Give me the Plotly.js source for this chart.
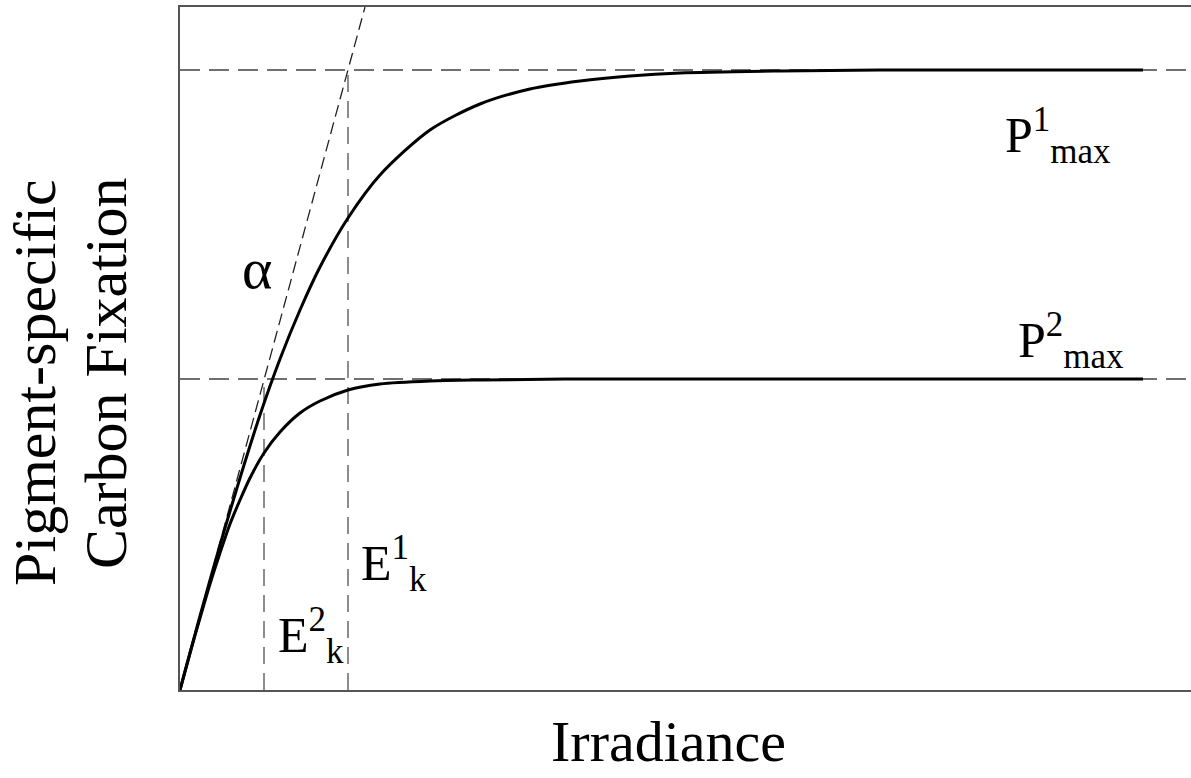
<!DOCTYPE html>
<html>
<head>
<meta charset="utf-8">
<script src="https://cdn.plot.ly/plotly-3.0.1.min.js"></script>
<style>html,body{margin:0;padding:0;background:#fff;}#chart{width:1191px;height:778px;}</style>
</head>
<body>
<div id="chart"></div>
<script>
// Irradiance (arbitrary units) and pigment-specific carbon fixation (arbitrary units)
const irradiance1 = [0, 20, 40, 60, 80, 100, 120, 140, 168, 200, 250, 300, 350, 400, 450, 500, 600, 700, 800, 963];
const fixation1   = [0, 74, 145, 212, 275, 331, 380, 423, 472, 515, 560, 586, 601, 609, 614, 617, 619, 620, 620, 620];
const irradiance2 = [0, 10, 20, 30, 40, 50, 60, 70, 84, 100, 120, 140, 168, 200, 250, 300, 400, 963];
const fixation2   = [0, 37, 72, 106, 137, 166, 190, 212, 237, 258, 277, 289, 300, 306, 309, 310, 311, 311];
const pmax1 = 620, pmax2 = 311;
const ek1 = 168, ek2 = 84;
const alphaLineE = [0, 185];
const alphaLineP = [0, 683];
const xMax = 1011, yMax = 683;

const serif = "'Liberation Serif', 'Times New Roman', Times, serif";
const grayDash = {color: '#707070', width: 2, dash: '20px,9px'};
const vDash = {color: '#707070', width: 1.6, dash: '17px,9px'};

const traces = [
  {x: [0, xMax], y: [pmax1, pmax1], mode: 'lines', line: grayDash, hoverinfo: 'skip'},
  {x: [0, xMax], y: [pmax2, pmax2], mode: 'lines', line: grayDash, hoverinfo: 'skip'},
  {x: [ek1, ek1], y: [0, pmax1], mode: 'lines', line: vDash, hoverinfo: 'skip'},
  {x: [ek2, ek2], y: [0, pmax2], mode: 'lines', line: vDash, hoverinfo: 'skip'},
  {x: alphaLineE, y: alphaLineP, mode: 'lines', line: {color: '#222', width: 1.3, dash: '12px,6px'}, hoverinfo: 'skip'},
  {x: irradiance1, y: fixation1, mode: 'lines', line: {color: '#000', width: 3, shape: 'spline', smoothing: 0.8}},
  {x: irradiance2, y: fixation2, mode: 'lines', line: {color: '#000', width: 3, shape: 'spline', smoothing: 0.8}}
];

const layout = {
  width: 1191, height: 778,
  margin: {l: 180, r: 0, t: 7, b: 88},
  paper_bgcolor: '#fff', plot_bgcolor: '#fff',
  showlegend: false,
  hovermode: false,
  xaxis: {range: [0, xMax], showgrid: false, zeroline: false, showticklabels: false, ticks: '',
          showline: true, mirror: true, linecolor: '#555', linewidth: 2, fixedrange: true},
  yaxis: {range: [0, yMax], showgrid: false, zeroline: false, showticklabels: false, ticks: '',
          showline: true, linecolor: '#555', linewidth: 2, fixedrange: true},
  font: {family: serif, color: '#000'},
  annotations: [
    {text: 'α', x: 77, y: 422, xref: 'x', yref: 'y', showarrow: false, font: {size: 58, family: serif}, xanchor: 'center', yanchor: 'middle'},
    {text: 'E<sup>2</sup><sub>k</sub>', x: 96, y: 55, xref: 'x', yref: 'y', showarrow: false, font: {size: 50, family: serif}, xanchor: 'left', yanchor: 'middle'},
    {text: 'E<sup>1</sup><sub>k</sub>', x: 179, y: 127, xref: 'x', yref: 'y', showarrow: false, font: {size: 50, family: serif}, xanchor: 'left', yanchor: 'middle'},
    {text: 'P<sup>1</sup><sub>max</sub>', x: 823, y: 555, xref: 'x', yref: 'y', showarrow: false, font: {size: 50, family: serif}, xanchor: 'left', yanchor: 'middle'},
    {text: 'P<sup>2</sup><sub>max</sub>', x: 836, y: 350, xref: 'x', yref: 'y', showarrow: false, font: {size: 50, family: serif}, xanchor: 'left', yanchor: 'middle'},
    {text: 'Irradiance', x: 0.4827, y: 0, xref: 'paper', yref: 'paper', yshift: -86, showarrow: false, font: {size: 58, family: serif}, xanchor: 'center', yanchor: 'bottom'},
    {text: 'Pigment-specific', x: -0.1435, y: 0.451, xref: 'paper', yref: 'paper', showarrow: false, textangle: -90, font: {size: 60, family: serif}, xanchor: 'center', yanchor: 'middle'},
    {text: 'Carbon Fixation', x: -0.0732, y: 0.464, xref: 'paper', yref: 'paper', showarrow: false, textangle: -90, font: {size: 60, family: serif}, xanchor: 'center', yanchor: 'middle'}
  ]
};

Plotly.newPlot('chart', traces, layout, {displayModeBar: false, staticPlot: true});
</script>
</body>
</html>
